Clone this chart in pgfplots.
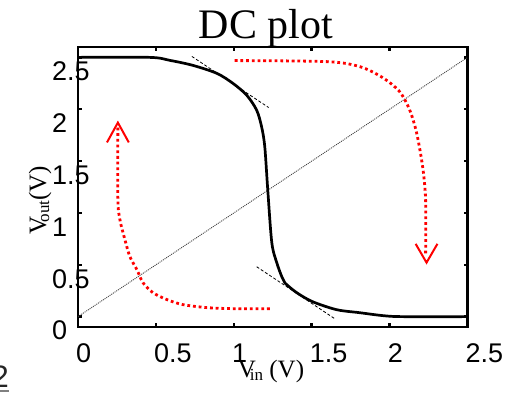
\documentclass[border=0pt]{standalone}
\usepackage{pgfplots}
\pgfplotsset{compat=1.18}
\usepackage{fontspec}
\setmainfont{Liberation Serif}
\newfontfamily\arial{Liberation Sans}
\definecolor{myred}{RGB}{255,0,0}
\begin{document}
\begin{tikzpicture}[x=1pt,y=1pt]
\useasboundingbox (0,0) rectangle (521,392);
\begin{axis}[
  at={(78pt,65pt)}, anchor=south west,
  scale only axis, width=389.5pt, height=280pt,
  xmin=0, xmax=2.5, ymin=-0.1, ymax=2.6,
  xtick={0,0.5,1,1.5,2,2.5}, ytick={0,0.5,1,1.5,2,2.5},
  xticklabels={0,0.5,1,1.5,2,2.5}, yticklabels={0,0.5,1,1.5,2,2.5},
  axis line style={line width=2.8pt},
  tick style={line width=2.5pt, black},
  major tick length=4pt,
  tick align=inside, tick pos=both,
  ticklabel style={font=\arial\fontsize{27}{27}\selectfont, inner sep=0pt},
  xticklabel style={anchor=west, xshift=-2pt, yshift=-26pt},
  yticklabel style={anchor=west, xshift=-26pt, yshift=-14pt},
]
% diagonal
\addplot[black!75, line width=0.9pt, dash pattern=on 1pt off 1pt] coordinates {(0,0) (2.5,2.5)};
% tangents
\addplot[black, line width=0.8pt, dash pattern=on 3pt off 2pt] coordinates {(0.731,2.509) (1.224,2.016)};
\addplot[black, line width=0.8pt, dash pattern=on 3pt off 2pt] coordinates {(1.147,0.481) (1.647,-0.019)};
% red arrows
\addplot[myred, line width=2.8pt, dash pattern=on 2.8pt off 2.9pt, smooth] coordinates {
 (1.231,0.077) (0.994,0.077) (0.827,0.087) (0.673,0.116) (0.571,0.164) (0.481,0.231)
 (0.417,0.328) (0.378,0.453) (0.333,0.579) (0.301,0.743) (0.269,0.935) (0.256,1.128) (0.256,1.823)};
\addplot[myred, line width=2pt] coordinates {(0.186,1.680) (0.256,1.871) (0.326,1.680)};
\addplot[myred, line width=2.8pt, dash pattern=on 2.8pt off 2.9pt, smooth] coordinates {
 (1.006,2.469) (1.596,2.459) (1.808,2.411) (1.955,2.305) (2.064,2.170) (2.128,1.996)
 (2.173,1.774) (2.212,1.446) (2.231,1.128) (2.231,0.598)};
\addplot[myred, line width=2pt] coordinates {(2.167,0.702) (2.237,0.521) (2.307,0.702)};
% VTC
\addplot[black, line width=2.7pt, smooth, tension=0.5] coordinates {
 (0,2.5) (0.46,2.5) (0.59,2.471) (0.737,2.423) (0.891,2.346) (0.994,2.25) (1.083,2.135)
 (1.147,1.99) (1.179,1.827) (1.199,1.635) (1.218,1.221) (1.244,0.712) (1.276,0.519)
 (1.308,0.385) (1.327,0.327) (1.404,0.231) (1.506,0.144) (1.66,0.067) (1.808,0.038)
 (1.955,0.01) (2.08,0) (2.5,0)};
\end{axis}
\node[font=\fontsize{42}{42}\selectfont, anchor=base, inner sep=0pt] at (266,354) {DC plot};
\node[font=\fontsize{25}{25}\selectfont, anchor=base, inner sep=0pt] at (271,15)
  {V\kern-6pt\raisebox{-3pt}{\fontsize{17}{17}\selectfont in} (V)};
\node[font=\fontsize{25}{25}\selectfont, anchor=base, inner sep=0pt, rotate=90] at (46,192)
  {V\kern-6pt\raisebox{-3pt}{\fontsize{17}{17}\selectfont out}(V)};
\node[font=\arial\fontsize{31}{31}\selectfont, anchor=base east, inner sep=0pt, text=black!85] at (9,5) {2};
\draw[black!50, line width=1.5pt] (-10,0.8) -- (9,0.8);
\end{tikzpicture}
\end{document}
